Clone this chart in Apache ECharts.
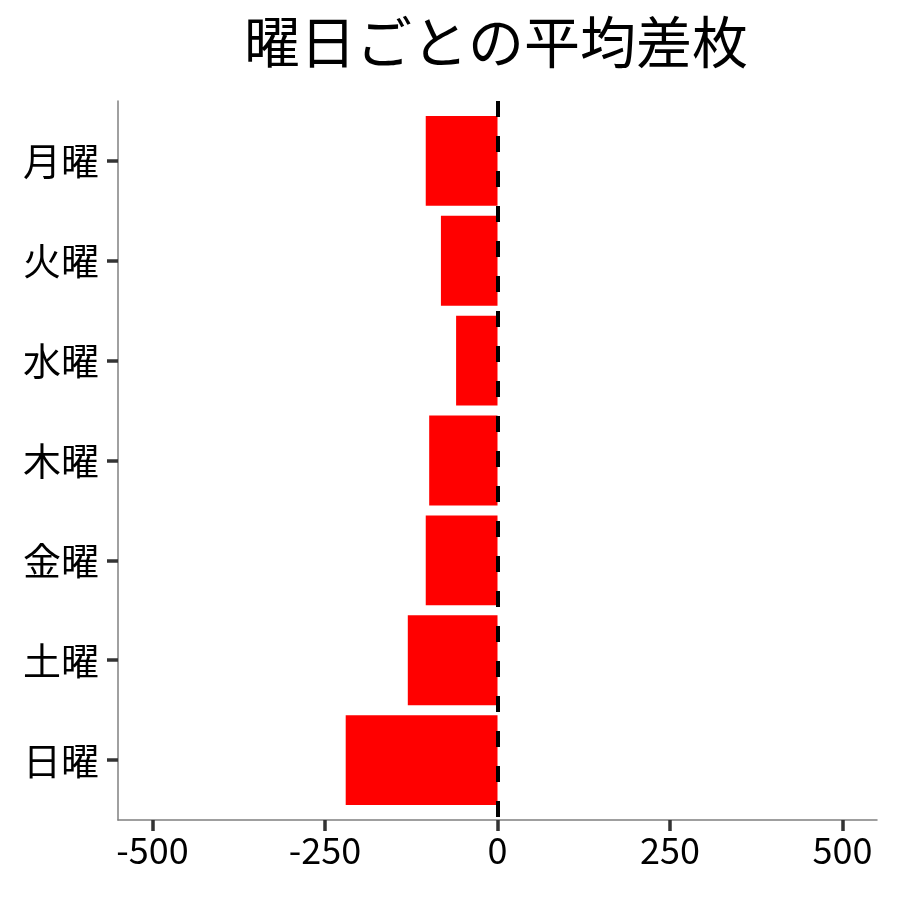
<!DOCTYPE html>
<html>
<head>
<meta charset="utf-8">
<script src="https://cdn.jsdelivr.net/npm/echarts@6/dist/echarts.min.js"></script>
<style>html,body{margin:0;padding:0;background:#fff;}#main{width:900px;height:900px;}</style>
</head>
<body>
<div id="main"></div>
<script>
const days = ['月曜', '火曜', '水曜', '木曜', '金曜', '土曜', '日曜'];
const avgDiff = [-104, -82, -60, -99, -104, -130, -220];
const xTicks = [-500, -250, 0, 250, 500];
const titleText = '曜日ごとの平均差枚';

const FONT = '"Noto Sans CJK JP", "Noto Sans", sans-serif';
const chart = echarts.init(document.getElementById('main'), null, {renderer: 'canvas'});
const barData = avgDiff.map((v, i) => [v, i]);
const dayIdx = days.map((d, i) => i);

chart.setOption({
  backgroundColor: '#ffffff',
  animation: false,
  title: {
    text: titleText,
    left: 491,
    top: 9,
    textAlign: 'center',
    textStyle: {fontFamily: FONT, fontSize: 56, fontWeight: 'normal', color: '#000'}
  },
  grid: {left: 118, right: 23, top: 101, bottom: 80, containLabel: false},
  xAxis: {
    type: 'value', min: -550, max: 550,
    splitLine: {show: false},
    axisLine: {show: true, onZero: false, lineStyle: {color: '#808080', width: 1.5}},
    axisTick: {show: true, length: 11, customValues: xTicks, lineStyle: {color: '#333', width: 3.5}},
    axisLabel: {show: true, customValues: xTicks, margin: 12, fontFamily: FONT, fontSize: 36, color: '#000'}
  },
  yAxis: {
    type: 'value', inverse: true, min: -0.6, max: 6.6,
    splitLine: {show: false},
    axisLine: {show: true, onZero: false, lineStyle: {color: '#808080', width: 1.5}},
    axisTick: {show: true, length: 11, customValues: dayIdx, lineStyle: {color: '#333', width: 3.5}},
    axisLabel: {show: true, customValues: dayIdx, margin: 19, fontFamily: FONT, fontSize: 38, color: '#000',
      formatter: v => days[Math.round(v)] || ''}
  },
  series: [{
    type: 'custom',
    data: barData,
    encode: {x: 0, y: 1},
    renderItem: function (params, api) {
      const v = api.value(0), idx = api.value(1);
      const p0 = api.coord([0, idx]);
      const p1 = api.coord([v, idx]);
      const h = api.size([0, 0.9])[1];
      return {
        type: 'rect',
        shape: {x: Math.min(p0[0], p1[0]), y: p1[1] - h / 2, width: Math.abs(p0[0] - p1[0]), height: h},
        style: {fill: '#ff0000'}
      };
    },
    markLine: {
      silent: true,
      symbol: ['none', 'none'],
      label: {show: false},
      lineStyle: {color: '#000', type: [16, 19], width: 4},
      data: [{xAxis: 0}],
      z: 10
    },
    z: 2
  }]
});
</script>
</body>
</html>
